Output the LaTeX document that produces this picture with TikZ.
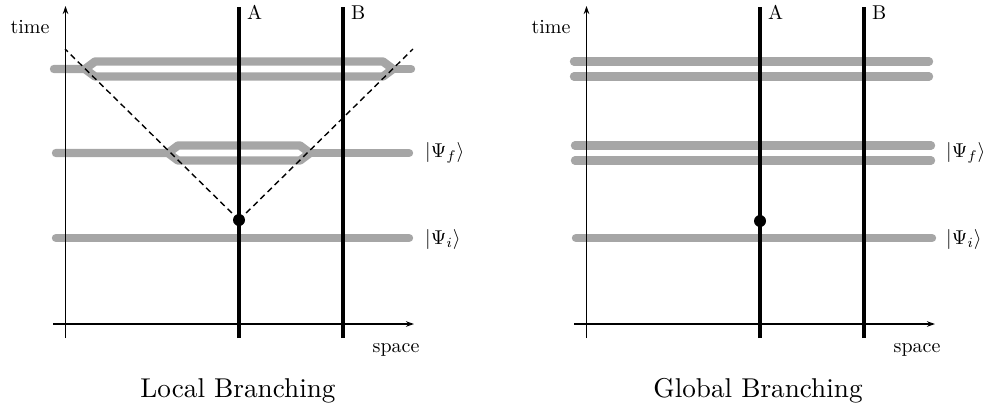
\documentclass[tikz,border=0pt]{standalone}
\usetikzlibrary{arrows.meta}
\definecolor{bandgray}{RGB}{166,166,166}
\newcommand{\lblsz}[1]{\scalebox{2.0}{#1}}
\newcommand{\capsz}[1]{\scalebox{2.72}{#1}}
\tikzset{
  axis/.style={line width=1.6pt,-{Stealth[length=8pt,width=5.5pt]}},
  worldline/.style={line width=3.8pt},
  band/.style={line width=8.4pt,bandgray,line cap=round,line join=round},
  cone/.style={line width=1.4pt,dash pattern=on 6pt off 4pt},
  lbl/.style={inner sep=0pt},
  capt/.style={inner sep=0pt},
  event/.style={circle,fill=black,inner sep=0pt,minimum size=12pt},
}
\begin{document}
\begin{tikzpicture}[x=1pt,y=-1pt]
\useasboundingbox (0,0) rectangle (987,408);
% ---------------- Left panel: Local Branching ----------------
% bands
\draw[band] (54,69) -- (85,69) -- (95,61.5) -- (383,61.5) -- (393,69) -- (383,76.5) -- (95,76.5) -- (85,69) -- cycle;
\draw[band] (393,69) -- (411,69);
\draw[band] (56,153) -- (168,153) -- (178,145.5) -- (300,145.5) -- (310,153) -- (300,160.5) -- (178,160.5) -- (168,153) -- cycle;
\draw[band] (310,153) -- (409,153);
\draw[band] (56,238) -- (409,238);
% axes
\coordinate (Lt0) at (65.5,338);
\coordinate (Lt1) at (65.5,6);
\coordinate (Ls0) at (53,324);
\coordinate (Ls1) at (414,324);
\draw[axis] (Lt0) -- (Lt1);
\draw[axis] (Ls0) -- (Ls1);
% world lines
\coordinate (LA0) at (239,338);
\coordinate (LA1) at (239,7);
\coordinate (LB0) at (343,338);
\coordinate (LB1) at (343,7);
\draw[worldline] (LA0) -- (LA1);
\draw[worldline] (LB0) -- (LB1);
% light cone
\node[event] (Le) at (239,220) {};
\coordinate (Lc1) at (65,49);
\coordinate (Lc2) at (413,49);
\draw[cone] (Le.center) -- (Lc1);
\draw[cone] (Le.center) -- (Lc2);
% labels
\node[lbl,anchor=base] (Ltime) at (30,33) {\lblsz{time}};
\node[lbl,anchor=base] (Lspace) at (396,352) {\lblsz{space}};
\node[lbl,anchor=base west] (LAl) at (247,19) {\lblsz{A}};
\node[lbl,anchor=base west] (LBl) at (351,19) {\lblsz{B}};
\node[lbl,anchor=west] (Lpf) at (425,153) {\lblsz{$|\Psi_f\rangle$}};
\node[lbl,anchor=west] (Lpi) at (425,239) {\lblsz{$|\Psi_i\rangle$}};
\node[capt,anchor=base] (Lcap) at (238,397) {\capsz{Local Branching}};
% ---------------- Right panel: Global Branching ----------------
\draw[band] (574,61.5) -- (929,61.5);
\draw[band] (574,76.5) -- (929,76.5);
\draw[band] (575,145.5) -- (931,145.5);
\draw[band] (575,160.5) -- (931,160.5);
\draw[band] (576,238) -- (932,238);
\coordinate (Rt0) at (586.5,338);
\coordinate (Rt1) at (586.5,6);
\coordinate (Rs0) at (574,324);
\coordinate (Rs1) at (935,324);
\draw[axis] (Rt0) -- (Rt1);
\draw[axis] (Rs0) -- (Rs1);
\coordinate (RA0) at (760,338);
\coordinate (RA1) at (760,7);
\coordinate (RB0) at (864,338);
\coordinate (RB1) at (864,7);
\draw[worldline] (RA0) -- (RA1);
\draw[worldline] (RB0) -- (RB1);
\node[event] (Re) at (760,221) {};
\node[lbl,anchor=base] (Rtime) at (551,33) {\lblsz{time}};
\node[lbl,anchor=base] (Rspace) at (917,352) {\lblsz{space}};
\node[lbl,anchor=base west] (RAl) at (768,19) {\lblsz{A}};
\node[lbl,anchor=base west] (RBl) at (872,19) {\lblsz{B}};
\node[lbl,anchor=west] (Rpf) at (946,153) {\lblsz{$|\Psi_f\rangle$}};
\node[lbl,anchor=west] (Rpi) at (946,239) {\lblsz{$|\Psi_i\rangle$}};
\node[capt,anchor=base] (Rcap) at (758,397) {\capsz{Global Branching}};
\end{tikzpicture}
\end{document}
